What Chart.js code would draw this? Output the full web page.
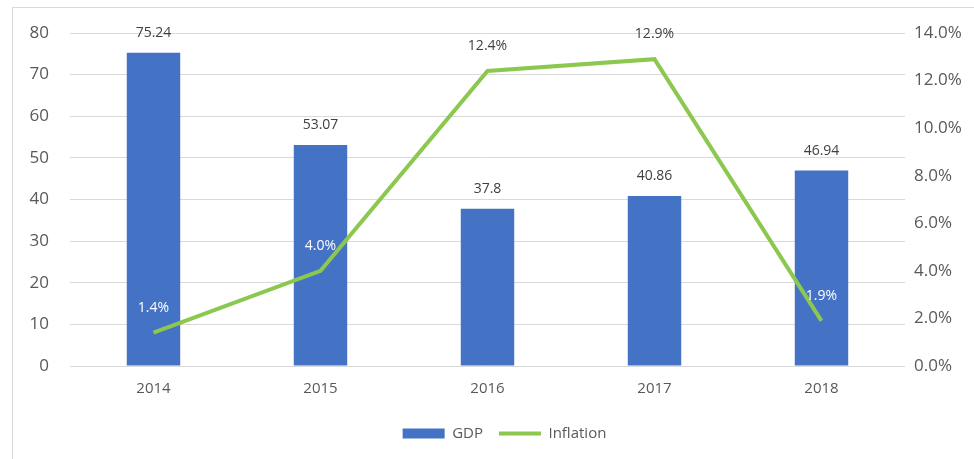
<!DOCTYPE html>
<html lang="en">
<head>
    <meta charset="UTF-8">
    <title>GDP and Inflation</title>
    <script src="https://cdn.jsdelivr.net/npm/chart.js"></script>
    <style>
        body {
            margin: 0;
            background-color: #fff;
            font-family: "Open Sans", sans-serif;
            overflow: hidden;
        }
        .frame {
            position: absolute;
            left: 12px;
            top: 7px;
            width: 1000px;
            height: 470px;
            border-left: 1px solid #d9d9d9;
            border-top: 1px solid #d9d9d9;
        }
        #chart {
            position: absolute;
            left: 0;
            top: 0;
        }
    </style>
</head>
<body>
    <div class="frame"></div>
    <!-- the original chart runs past the right edge of the window -->
    <canvas id="chart" width="1009" height="459"></canvas>

    <script>
        const years = ["2014", "2015", "2016", "2017", "2018"];
        const gdp = [75.24, 53.07, 37.8, 40.86, 46.94];
        const inflation = [1.4, 4.0, 12.4, 12.9, 1.9];

        const textGray = "#595959";
        const labelGray = "#404040";

        // value labels for bars and line points
        const valueLabels = {
            id: "valueLabels",
            afterDatasetsDraw(chart) {
                const ctx = chart.ctx;
                const barMeta = chart.getDatasetMeta(0);
                const lineMeta = chart.getDatasetMeta(1);
                ctx.save();
                ctx.font = "14px 'Open Sans'";
                ctx.textAlign = "center";
                ctx.textBaseline = "middle";
                barMeta.data.forEach((bar, i) => {
                    ctx.fillStyle = labelGray;
                    ctx.fillText(String(gdp[i]), bar.x, bar.y - 20);
                });
                lineMeta.data.forEach((pt, i) => {
                    const y = pt.y - 25;
                    const bar = barMeta.data[i];
                    ctx.fillStyle = y > bar.y ? "#ffffff" : labelGray;
                    ctx.fillText(inflation[i].toFixed(1) + "%", pt.x, y);
                });
                ctx.restore();
            }
        };

        new Chart(document.getElementById("chart").getContext("2d"), {
            data: {
                labels: years,
                datasets: [
                    {
                        type: "bar",
                        label: "GDP",
                        data: gdp,
                        backgroundColor: "#4472c4",
                        borderWidth: 0,
                        barPercentage: 0.32,
                        categoryPercentage: 1,
                        yAxisID: "y",
                        pointStyle: "rect",
                        order: 2
                    },
                    {
                        type: "line",
                        label: "Inflation",
                        data: inflation,
                        borderColor: "#8cc850",
                        backgroundColor: "#8cc850",
                        borderWidth: 4,
                        pointRadius: 0,
                        tension: 0,
                        yAxisID: "y1",
                        pointStyle: "line",
                        order: 1
                    }
                ]
            },
            options: {
                responsive: false,
                animation: false,
                layout: { padding: { top: 33, left: 0, right: 0, bottom: 8 } },
                plugins: {
                    legend: {
                        position: "bottom",
                        labels: {
                            usePointStyle: true,
                            pointStyleWidth: 42,
                            boxHeight: 10,
                            color: textGray,
                            font: { family: "Open Sans", size: 15 },
                            padding: 16,
                            sort: (a, b) => a.datasetIndex - b.datasetIndex
                        }
                    },
                    tooltip: { enabled: false }
                },
                scales: {
                    x: {
                        grid: { display: false, drawTicks: false },
                        border: { display: false },
                        ticks: { color: textGray, font: { family: "Open Sans", size: 15 }, padding: 14 },
                        afterFit(scale) { scale.height = 44; }
                    },
                    y: {
                        position: "left",
                        min: 0,
                        max: 80,
                        ticks: { stepSize: 10, color: textGray, font: { family: "Open Sans", size: 17 }, padding: 21 },
                        grid: { color: "#d9d9d9", drawTicks: false },
                        border: { display: false },
                        afterFit(scale) { scale.width = 70; }
                    },
                    y1: {
                        position: "right",
                        min: 0,
                        max: 14,
                        ticks: {
                            stepSize: 2,
                            color: textGray,
                            font: { family: "Open Sans", size: 17 },
                            padding: 9,
                            callback: v => v.toFixed(1) + "%"
                        },
                        grid: { display: false, drawTicks: false },
                        border: { display: false },
                        afterFit(scale) { scale.width = 104; }
                    }
                }
            },
            plugins: [valueLabels]
        });
    </script>
</body>
</html>
